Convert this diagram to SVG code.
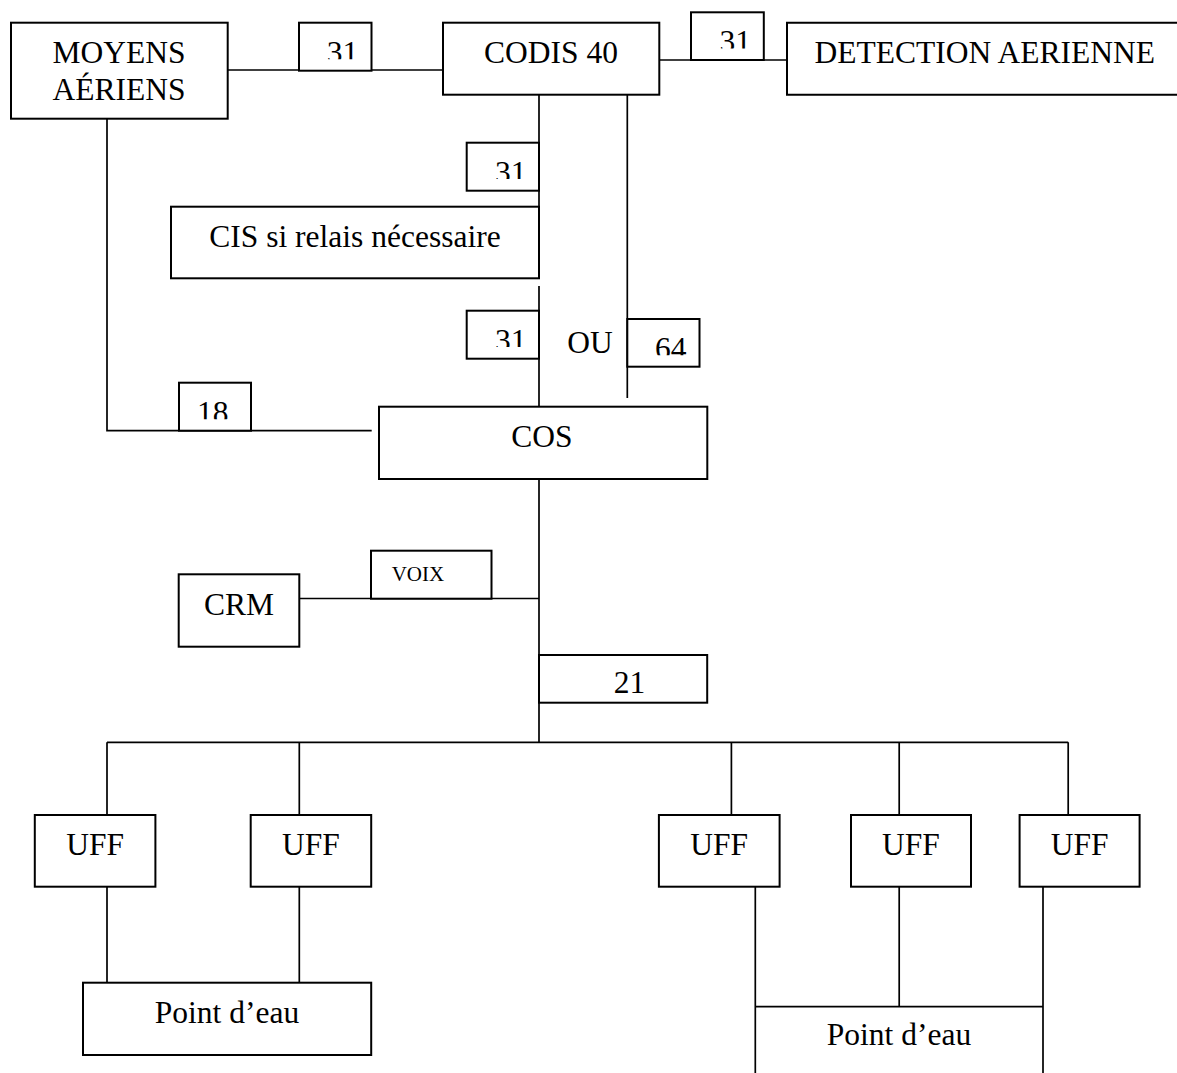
<svg xmlns="http://www.w3.org/2000/svg" width="1177" height="1073" viewBox="0 0 1177 1073">
<style>
.box{fill:#fff;stroke:#000;stroke-width:2}
.ln{fill:none;stroke:#000;stroke-width:1.7}
text{font-family:"Liberation Serif","Times New Roman",serif;font-size:31.5px;fill:#000}
.c{text-anchor:middle}
.sm{font-size:21px}
</style>
<defs>
<clipPath id="cl31a"><rect x="299" y="22" width="73" height="37.3"/></clipPath>
<clipPath id="cl31b"><rect x="691" y="12" width="73" height="36.5"/></clipPath>
<clipPath id="cl31c"><rect x="466" y="142" width="73" height="37"/></clipPath>
<clipPath id="cl31d"><rect x="466" y="310" width="73" height="37"/></clipPath>
<clipPath id="cl64"><rect x="627" y="318" width="73" height="37.3"/></clipPath>
<clipPath id="cl18"><rect x="179" y="382" width="73" height="37.3"/></clipPath>
</defs>
<rect width="1177" height="1073" fill="#fff"/>
<g id="connectors">
<path class="ln" d="M227.7,70H443"/>
<path class="ln" d="M659.3,60H787"/>
<path class="ln" d="M539,94.7V206.7"/>
<path class="ln" d="M539,286V406.7"/>
<path class="ln" d="M627.3,94.7V398"/>
<path class="ln" d="M107,118.7V430.7H371.7"/>
<path class="ln" d="M539,479V742.3"/>
<path class="ln" d="M299.3,598.5H539"/>
<path class="ln" d="M107,742.3H1068.2"/>
<path class="ln" d="M107,742.3V815M299.3,742.3V815M731.4,742.3V815M899.2,742.3V815M1068.2,742.3V815"/>
<path class="ln" d="M107,886.7V982.7M299.3,886.7V982.7"/>
<path class="ln" d="M755.3,886.7V1073M1043,886.7V1073M899.2,886.7V1006.7M755.3,1006.7H1043"/>
</g>
<g id="moyens">
<rect class="box" x="11" y="22.7" width="216.7" height="96"/>
<text class="c" x="119" y="62.7">MOYENS</text>
<text class="c" x="119" y="100">AÉRIENS</text>
</g>
<g id="lbl31a">
<rect class="box" x="299" y="22.7" width="72.5" height="48"/>
<text x="326.7" y="62.5" clip-path="url(#cl31a)">31</text>
</g>
<g id="codis">
<rect class="box" x="443" y="22.7" width="216.3" height="72"/>
<text class="c" x="551" y="63">CODIS 40</text>
</g>
<g id="lbl31b">
<rect class="box" x="691" y="12.3" width="72.8" height="47.7"/>
<text x="719.6" y="52" clip-path="url(#cl31b)">31</text>
</g>
<g id="detection">
<path class="box" d="M1180,22.7H787V94.7H1180"/>
<text x="814.6" y="63.3">DETECTION AERIENNE</text>
</g>
<g id="lbl31c">
<rect class="box" x="466.7" y="142.7" width="72.3" height="48"/>
<text x="495" y="182.5" clip-path="url(#cl31c)">31</text>
</g>
<g id="cis">
<rect class="box" x="171" y="206.7" width="368" height="71.6"/>
<text class="c" x="355" y="246.7">CIS si relais nécessaire</text>
</g>
<g id="lbl31d">
<rect class="box" x="466.7" y="310.7" width="72.3" height="48"/>
<text x="495" y="350.5" clip-path="url(#cl31d)">31</text>
</g>
<g id="ou">
<text x="567.3" y="352.7">OU</text>
</g>
<g id="lbl64">
<rect class="box" x="627.3" y="319" width="72.2" height="47.7"/>
<text x="655" y="358.8" clip-path="url(#cl64)">64</text>
</g>
<g id="lbl18">
<rect class="box" x="179" y="382.7" width="72" height="48"/>
<text x="197" y="422.7" clip-path="url(#cl18)">18</text>
</g>
<g id="cos">
<rect class="box" x="379" y="406.7" width="328.3" height="72.3"/>
<text class="c" x="542" y="446.7">COS</text>
</g>
<g id="crm">
<rect class="box" x="178.7" y="574.3" width="120.6" height="72.4"/>
<text class="c" x="239" y="615">CRM</text>
</g>
<g id="voix">
<rect class="box" x="371" y="550.7" width="120.5" height="48"/>
<text class="sm" x="391.7" y="581">VOIX</text>
</g>
<g id="lbl21">
<rect class="box" x="539" y="655" width="168.2" height="47.7"/>
<text class="c" x="629.4" y="692.7">21</text>
</g>
<g id="uff1">
<rect class="box" x="34.8" y="815" width="120.6" height="71.7"/>
<text class="c" x="95.1" y="855">UFF</text>
</g>
<g id="uff2">
<rect class="box" x="250.7" y="815" width="120.5" height="71.7"/>
<text class="c" x="311" y="855">UFF</text>
</g>
<g id="uff3">
<rect class="box" x="658.9" y="815" width="120.7" height="71.7"/>
<text class="c" x="719.2" y="855">UFF</text>
</g>
<g id="uff4">
<rect class="box" x="851" y="815" width="120" height="71.7"/>
<text class="c" x="911" y="855">UFF</text>
</g>
<g id="uff5">
<rect class="box" x="1019.6" y="815" width="120" height="71.7"/>
<text class="c" x="1079.6" y="855">UFF</text>
</g>
<g id="point-eau-1">
<rect class="box" x="83" y="982.7" width="288.2" height="72.3"/>
<text class="c" x="227" y="1022.7">Point d’eau</text>
</g>
<g id="point-eau-2">
<text class="c" x="899" y="1045">Point d’eau</text>
</g>
</svg>
